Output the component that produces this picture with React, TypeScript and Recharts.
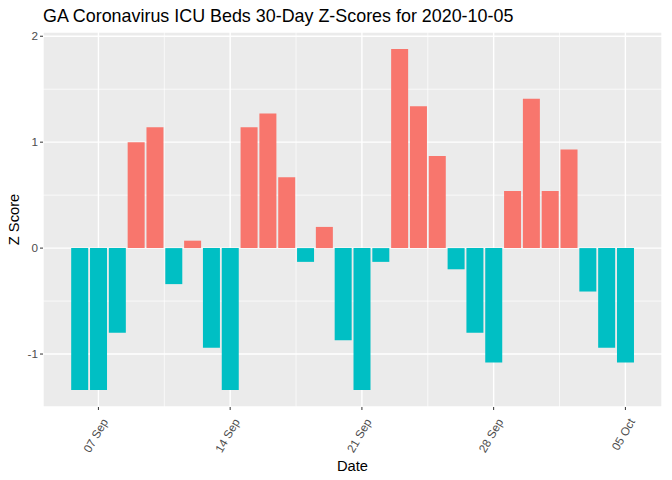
import { BarChart, Bar, Cell, XAxis, YAxis, CartesianGrid } from "recharts";

// daily ICU bed z-scores, 30 days ending 2020-10-05
const dates = [
  "2020-09-06", "2020-09-07", "2020-09-08", "2020-09-09", "2020-09-10", "2020-09-11",
  "2020-09-12", "2020-09-13", "2020-09-14", "2020-09-15", "2020-09-16", "2020-09-17",
  "2020-09-18", "2020-09-19", "2020-09-20", "2020-09-21", "2020-09-22", "2020-09-23",
  "2020-09-24", "2020-09-25", "2020-09-26", "2020-09-27", "2020-09-28", "2020-09-29",
  "2020-09-30", "2020-10-01", "2020-10-02", "2020-10-03", "2020-10-04", "2020-10-05",
];
const zScores = [
  -1.34, -1.34, -0.8, 1.0, 1.14, -0.34,
  0.07, -0.94, -1.34, 1.14, 1.27, 0.67,
  -0.13, 0.2, -0.87, -1.34, -0.13, 1.88,
  1.34, 0.87, -0.2, -0.8, -1.08, 0.54,
  1.41, 0.54, 0.93, -0.41, -0.94, -1.08,
];
const tickDates = ["2020-09-07", "2020-09-14", "2020-09-21", "2020-09-28", "2020-10-05"];
const minorDates = ["2020-09-10T12:00Z", "2020-09-17T12:00Z", "2020-09-24T12:00Z", "2020-10-01T12:00Z"];
const yTicks = [-1, 0, 1, 2];
const yMinor = [-0.5, 0.5, 1.5];
const monthNames = ["Jan", "Feb", "Mar", "Apr", "May", "Jun", "Jul", "Aug", "Sep", "Oct", "Nov", "Dec"];

const DAY = 86400000;
const t0 = Date.parse(dates[0]);
const dayIndex = (d: string) => (Date.parse(d) - t0) / DAY;

const data = dates.map((d, i) => ({ day: dayIndex(d), z: zScores[i] }));

const fmtDay = (v: number) => {
  const d = new Date(t0 + v * DAY);
  return String(d.getUTCDate()).padStart(2, "0") + " " + monthNames[d.getUTCMonth()];
};

const FONT = "'Liberation Sans', Arial, sans-serif";
const RED = "#F8766D";
const TEAL = "#00BFC4";

function DateTick(props: any) {
  const { x, y, payload } = props;
  return (
    <g transform={`translate(${x + 4},${y + 6})`}>
      <text
        transform="rotate(-60)"
        textAnchor="end"
        x={0}
        y={0}
        dy="0.6em"
        fontSize={11.7}
        fill="#4D4D4D"
        fontFamily={FONT}
      >
        {fmtDay(payload.value)}
      </text>
    </g>
  );
}

function YTitle(props: any) {
  const { viewBox } = props;
  const cx = viewBox.x + 14;
  const cy = viewBox.y + viewBox.height / 2;
  return (
    <text
      x={cx}
      y={cy}
      transform={`rotate(-90, ${cx}, ${cy})`}
      textAnchor="middle"
      dominantBaseline="central"
      fontSize={14.7}
      fill="#000"
      fontFamily={FONT}
    >
      Z Score
    </text>
  );
}

export default function App() {
  return (
    <div style={{ position: "absolute", left: 0, top: 0, width: 672, height: 480, background: "#fff", fontFamily: FONT }}>
      <div style={{ position: "absolute", left: 43, top: 6, fontSize: 17.9, color: "#000", whiteSpace: "nowrap" }}>
        GA Coronavirus ICU Beds 30-Day Z-Scores for 2020-10-05
      </div>
      <BarChart
        width={672}
        height={480}
        data={data}
        margin={{ top: 32, right: 10, left: 0, bottom: 0 }}
        barSize={17}
      >
        <CartesianGrid fill="#EBEBEB" fillOpacity={1} stroke="#FFFFFF" strokeWidth={1.4} />
        <CartesianGrid
          stroke="#FFFFFF"
          strokeWidth={0.7}
          horizontalValues={yMinor}
          verticalValues={minorDates.map(dayIndex)}
        />
        <XAxis
          type="number"
          dataKey="day"
          domain={[-1.945, 30.945]}
          allowDataOverflow
          ticks={tickDates.map(dayIndex)}
          tick={<DateTick />}
          tickSize={3}
          tickLine={{ stroke: "#333333" }}
          axisLine={false}
          height={73}
          label={{ value: "Date", position: "insideBottom", offset: 9, fill: "#000", fontSize: 14.7, fontFamily: FONT }}
        />
        <YAxis
          type="number"
          domain={[-1.5, 2.04]}
          allowDataOverflow
          ticks={yTicks}
          width={43}
          tickSize={3}
          tickMargin={2}
          tickLine={{ stroke: "#333333" }}
          axisLine={false}
          tick={{ fill: "#4D4D4D", fontSize: 11.7, fontFamily: FONT }}
          label={{ content: <YTitle /> }}
        />
        <Bar dataKey="z" isAnimationActive={false}>
          {data.map((d) => (
            <Cell key={d.day} fill={d.z >= 0 ? RED : TEAL} />
          ))}
        </Bar>
      </BarChart>
    </div>
  );
}
